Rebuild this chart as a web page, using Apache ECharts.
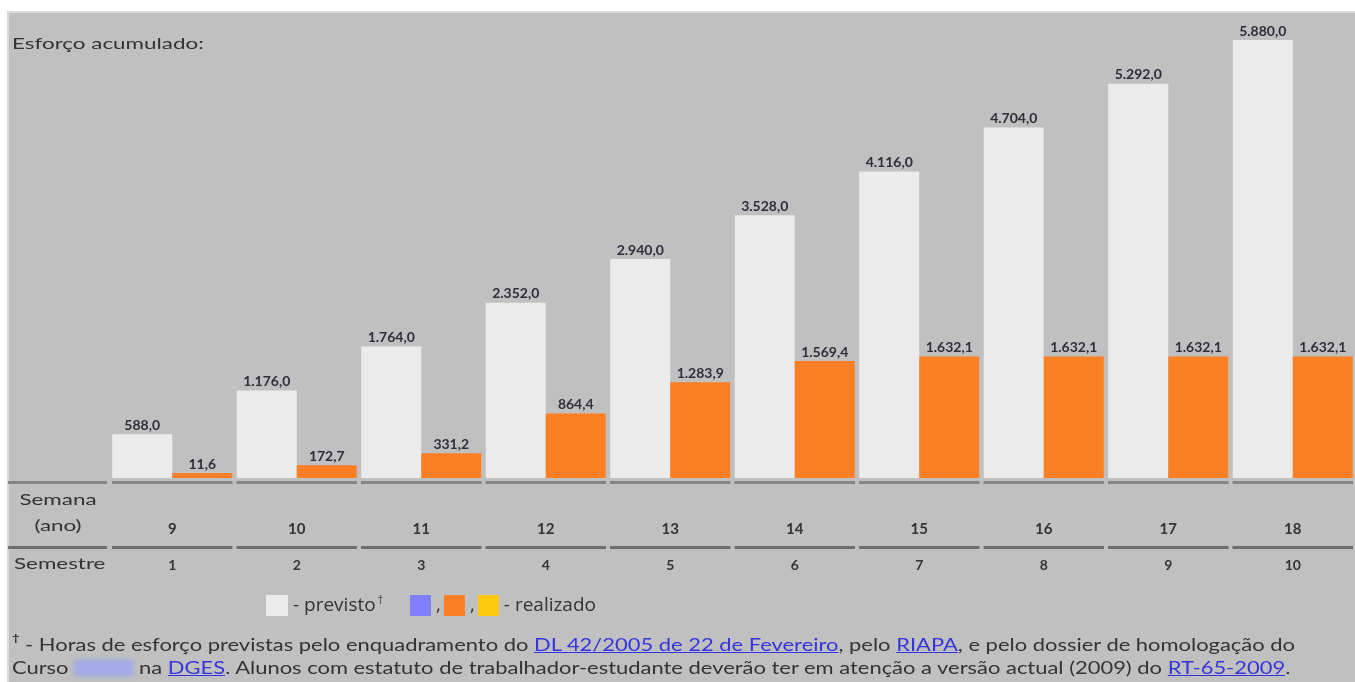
<!DOCTYPE html>
<html>
<head>
<meta charset="utf-8">
<script src="https://cdn.jsdelivr.net/npm/echarts@6/dist/echarts.min.js"></script>
<style>
  html, body { margin: 0; padding: 0; background: #ffffff; }
  #wrap { position: relative; width: 1355px; height: 682px; overflow: hidden; }
  #chart { position: absolute; left: 0; top: 0; width: 1355px; height: 682px; }
  #note { position: absolute; left: 12px; top: 633px; width: 1050px; font-family: Lato, "Open Sans", sans-serif;
          font-size: 17px; line-height: 23px; color: #333333; white-space: nowrap;
          transform: scaleX(1.29); transform-origin: 0 0; }
  #note a { color: #3434e0; text-decoration: underline; }
  #note sup { font-size: 10px; vertical-align: 10px; line-height: 0; font-weight: bold; }
  #note .blur { display: inline-block; width: 46px; height: 18px; background: #a4aae6; filter: blur(2px); vertical-align: -3px; }
</style>
</head>
<body>
<div id="wrap">
  <div id="chart"></div>
  <div id="note"><sup>†</sup> - Horas de esforço previstas pelo enquadramento do <a>DL 42/2005 de 22 de Fevereiro</a>, pelo <a>RIAPA</a>, e pelo dossier de homologação do<br>Curso <span class="blur"></span> na <a>DGES</a>. Alunos com estatuto de trabalhador-estudante deverão ter em atenção a versão actual (2009) do <a>RT-65-2009</a>.</div>
</div>
<script>
// ---- data ----
var semana = ['9', '10', '11', '12', '13', '14', '15', '16', '17', '18'];
var semestre = ['1', '2', '3', '4', '5', '6', '7', '8', '9', '10'];
var previsto = [588.0, 1176.0, 1764.0, 2352.0, 2940.0, 3528.0, 4116.0, 4704.0, 5292.0, 5880.0];
var realizado = [11.6, 172.7, 331.2, 864.4, 1283.9, 1569.4, 1632.1, 1632.1, 1632.1, 1632.1];

function fmt(v) {
  var s = v.toFixed(1).split('.');
  var intp = s[0].replace(/\B(?=(\d{3})+(?!\d))/g, '.');
  return intp + ',' + s[1];
}

var FONT = 'Lato, "Open Sans", sans-serif';
var chart = echarts.init(document.getElementById('chart'), null, { renderer: 'canvas' });

var sepData = semana.map(function (s, i) { return [i, 0]; });

var labelStyle = {
  show: true, position: 'top', distance: 2,
  formatter: function (p) { return fmt(p.value); },
  fontFamily: FONT, fontSize: 14, fontWeight: 'bold', color: '#2e2e3a'
};

var legendText = {
  fontFamily: '"Open Sans", Lato, sans-serif', fontSize: 19, color: '#333333',
  rich: {
    s: { fontSize: 9, fontFamily: FONT, color: '#333333', verticalAlign: 'top', padding: [0, 0, 12, 2] }
  }
};
var legendFmt = function (name) {
  if (name === 'previsto') return '- previsto{s|†}';
  if (name === 'realizado_c') return '- realizado';
  return ',';
};

var option = {
  backgroundColor: '#ffffff',
  animation: false,
  graphic: [
    { type: 'rect', z: -10, shape: { x: 8, y: 12, width: 1350, height: 672 },
      style: { fill: '#c0c0c0', stroke: '#dadada', lineWidth: 2 } },
    { type: 'text', z: 5, x: 12, y: 44, scaleX: 1.4,
      style: { text: 'Esforço acumulado:', font: '16px ' + FONT, fill: '#333333', textAlign: 'left', textVerticalAlign: 'middle' } },
    { type: 'text', z: 5, x: 58, y: 500, scaleX: 1.4,
      style: { text: 'Semana', font: '16px ' + FONT, fill: '#333333', textAlign: 'center', textVerticalAlign: 'middle' } },
    { type: 'text', z: 5, x: 58, y: 526, scaleX: 1.4,
      style: { text: '(ano)', font: '16px ' + FONT, fill: '#333333', textAlign: 'center', textVerticalAlign: 'middle' } },
    { type: 'text', z: 5, x: 14, y: 564, scaleX: 1.4,
      style: { text: 'Semestre', font: '16px ' + FONT, fill: '#333333', textAlign: 'left', textVerticalAlign: 'middle' } },
    { type: 'rect', z: 1, shape: { x: 8, y: 481, width: 99, height: 3 }, style: { fill: '#858585' } },
    { type: 'rect', z: 1, shape: { x: 8, y: 546, width: 99, height: 3 }, style: { fill: '#6e6e6e' } }
  ],
  legend: [
    {
      left: 266, top: 595, padding: 0,
      itemWidth: 22, itemHeight: 21, itemGap: 2, icon: 'rect', selectedMode: false,
      data: ['previsto'], formatter: legendFmt, textStyle: legendText
    },
    {
      left: 410, top: 595, padding: 0,
      itemWidth: 21, itemHeight: 21, itemGap: 3, icon: 'rect', selectedMode: false,
      data: ['realizado_a', 'realizado_b', 'realizado_c'], formatter: legendFmt, textStyle: legendText
    }
  ],
  grid: { left: 110, right: 0, top: 40, bottom: 204, containLabel: false },
  xAxis: [
    {
      type: 'category', data: semana, position: 'bottom',
      axisLine: { show: false }, axisTick: { show: false },
      axisLabel: { margin: 44, fontFamily: FONT, fontSize: 15, color: '#333333', fontWeight: 'bold' }
    },
    {
      type: 'category', data: semestre, position: 'bottom', offset: 0,
      axisLine: { show: false }, axisTick: { show: false },
      axisLabel: { margin: 80, fontFamily: FONT, fontSize: 14, color: '#333333', fontWeight: 'bold' }
    }
  ],
  yAxis: {
    type: 'value', min: 0, max: 5880, show: false,
    splitLine: { show: false }
  },
  series: [
    {
      name: 'previsto', type: 'bar', data: previsto, barGap: '0%', barCategoryGap: '3.6%',
      itemStyle: { color: '#ebebeb' },
      label: labelStyle
    },
    {
      name: 'realizado_a', type: 'bar', stack: 'r', data: [], itemStyle: { color: '#8080ff' }
    },
    {
      name: 'realizado_b', type: 'bar', stack: 'r', data: realizado, barMinHeight: 5,
      itemStyle: { color: '#fd7f24' },
      label: labelStyle
    },
    {
      name: 'realizado_c', type: 'bar', stack: 'r', data: [], itemStyle: { color: '#ffc90e' }
    },
    {
      name: 'sep', type: 'custom', data: sepData, clip: false, z: 1, silent: true,
      encode: { x: 0, y: 1 },
      renderItem: function (params, api) {
        var c = api.coord([api.value(0), 0]);
        var w = api.size([1, 0])[0];
        var x0 = c[0] - w / 2 + 2, ww = w - 4;
        return {
          type: 'group',
          children: [
            { type: 'rect', shape: { x: x0, y: c[1] + 3, width: ww, height: 3 }, style: { fill: '#858585' } },
            { type: 'rect', shape: { x: x0, y: c[1] + 68, width: ww, height: 3 }, style: { fill: '#6e6e6e' } }
          ]
        };
      }
    }
  ]
};
chart.setOption(option);
</script>
</body>
</html>
